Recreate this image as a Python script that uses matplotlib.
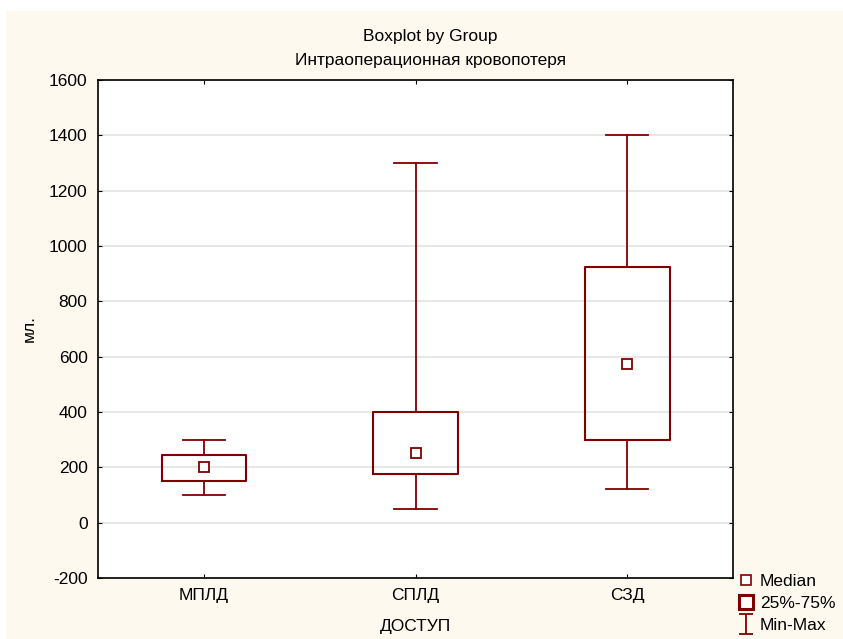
import matplotlib.pyplot as plt
from matplotlib.patches import Rectangle
from matplotlib.lines import Line2D
from matplotlib.path import Path

plt.rcParams['font.family'] = ['Liberation Sans', 'DejaVu Sans']
plt.rcParams['axes.unicode_minus'] = False

groups = ['МПЛД', 'СПЛД', 'СЗД']
mins = [100, 50, 120]
q1 = [150, 175, 300]
medians = [200, 250, 575]
q3 = [245, 400, 925]
maxs = [300, 1300, 1400]

col = '#800000'
fs = 12.5

fig = plt.figure(figsize=(8.43, 6.39), dpi=100, facecolor='white')
# cream panel behind everything
fig.patches.append(Rectangle((6 / 843, 0), 1, 1 - 11 / 639, transform=fig.transFigure,
                             facecolor='#fdf9ee', edgecolor='none', zorder=-10))

ax = fig.add_axes([98 / 843, 1 - 578 / 639, 635 / 843, 498 / 639])
ax.set_facecolor('white')

stats = []
for i in range(len(groups)):
    stats.append({'label': groups[i], 'whislo': mins[i], 'q1': q1[i], 'med': medians[i],
                  'q3': q3[i], 'whishi': maxs[i], 'fliers': []})
pos = [1, 2, 3]
ax.bxp(stats, positions=pos, widths=0.4, showfliers=False, manage_ticks=False,
       boxprops={'color': col, 'linewidth': 1.5},
       whiskerprops={'color': col, 'linewidth': 1.3},
       capprops={'color': col, 'linewidth': 1.3},
       capwidths=0.2,
       medianprops={'linestyle': 'none'})
ax.plot(pos, medians, 's', markersize=6.5, markerfacecolor='white', markeredgecolor=col,
        markeredgewidth=1.3, linestyle='none', zorder=5)

ax.set_xlim(0.5, 3.5)
ax.set_ylim(-200, 1600)
ax.set_xticks(pos)
ax.set_xticklabels(groups)
ax.set_yticks(range(-200, 1601, 200))
ax.tick_params(direction='in', length=3, top=True, right=True, labelsize=fs, color='black')
ax.tick_params(axis='x', pad=7.5)
ax.tick_params(axis='y', pad=7.5)
ax.yaxis.grid(True, color='#e3e3e3', linewidth=1.2)
ax.set_axisbelow(True)
for s in ax.spines.values():
    s.set_linewidth(1.2)

ax.set_xlabel('ДОСТУП', fontsize=fs)
ax.xaxis.set_label_coords(0.5, (578 - 619.5) / 498)
ax.set_ylabel('мл.', fontsize=fs)
ax.yaxis.set_label_coords((37 - 98) / 635, 0.5)

fig.text(430 / 843, 1 - 41.3 / 639, 'Boxplot by Group', ha='center', va='baseline', fontsize=fs)
fig.text(431 / 843, 1 - 65 / 639, 'Интраоперационная кровопотеря', ha='center',
         va='baseline', fontsize=fs)

ibeam = Path([(-0.35, -0.5), (0.35, -0.5), (0, -0.5), (0, 0.5), (-0.35, 0.5), (0.35, 0.5)],
             [Path.MOVETO, Path.LINETO, Path.MOVETO, Path.LINETO, Path.MOVETO, Path.LINETO])
handles = [
    Line2D([], [], marker='s', markersize=6.5, markerfacecolor='white', markeredgecolor=col,
           markeredgewidth=1.2, linestyle='none'),
    Line2D([], [], marker='s', markersize=10.5, markerfacecolor='white', markeredgecolor=col,
           markeredgewidth=2.2, linestyle='none'),
    Line2D([], [], marker=ibeam, markersize=14, markerfacecolor='none', markeredgecolor=col,
           markeredgewidth=1.3, linestyle='none'),
]
fig.legend(handles, ['Median', '25%-75%', 'Min-Max'], loc='upper left',
           bbox_to_anchor=(739 / 843, 1 - 574 / 639), frameon=False, fontsize=fs,
           handlelength=0.8, handletextpad=0.4, labelspacing=0.4, borderpad=0.0,
           borderaxespad=0)

fig.savefig('out.png', dpi=100, facecolor=fig.get_facecolor())
